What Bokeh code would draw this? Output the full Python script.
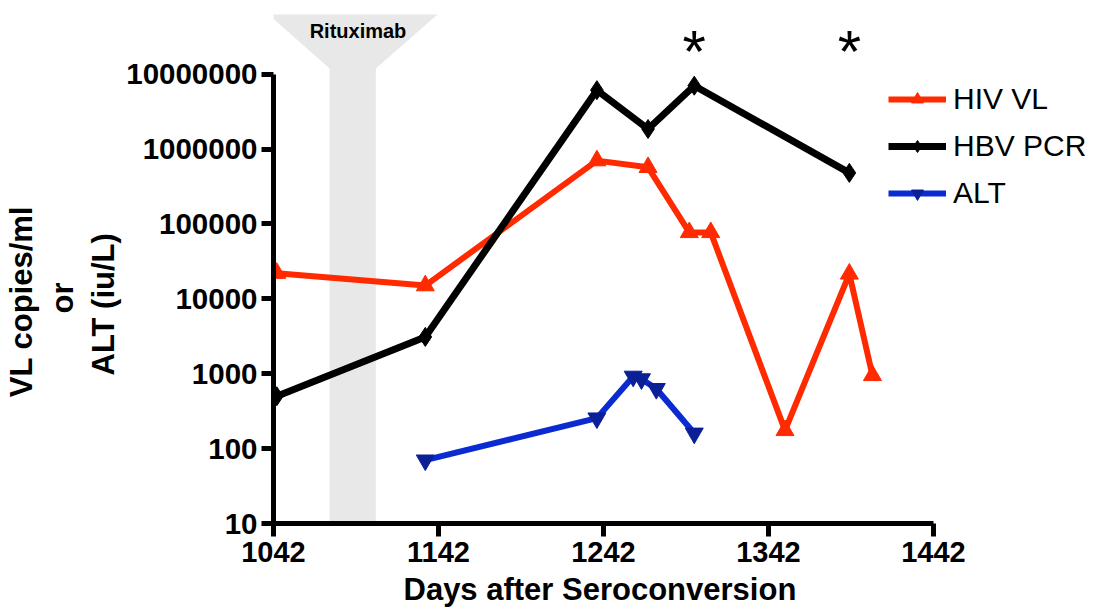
import math
from bokeh.plotting import figure
from bokeh.models import Range1d, FixedTicker, NumeralTickFormatter, Label, Legend, LegendItem, Title
from bokeh.core.properties import value
from bokeh.embed import file_html
from bokeh.resources import INLINE

# ---------------- data ----------------
hiv_days = [1044, 1134, 1238, 1269, 1294, 1307, 1352, 1391, 1405]
hiv_vl = [22000, 15000, 700000, 570000, 77000, 77000, 175, 21500, 950]

hbv_days = [1044, 1134, 1238, 1269, 1297, 1391]
hbv_pcr = [500, 3100, 6100000, 1850000, 7000000, 480000]

alt_days = [1134, 1238, 1260, 1265, 1274, 1297]
alt_vals = [70, 255, 920, 850, 630, 160]

rituximab_start = 1076
rituximab_end = 1104

x_ticks = [1042, 1142, 1242, 1342, 1442]
y_ticks = [10, 100, 1000, 10000, 100000, 1000000, 10000000]

# ---------------- layout helpers ----------------
W, H = 1098, 615
LEFT, BOTTOM = 273, 92
FRAME_W = W - LEFT
FRAME_H = H - BOTTOM
PX_DAY = 1.65
PX_DEC = 74.9
X0 = 1042
PAGE_X0 = LEFT          # page x of day 1042
PAGE_Y10 = FRAME_H      # page y of value 10


def xd(px):
    return X0 + (px - PAGE_X0) / PX_DAY


def yd(py):
    return 10 ** (1 + (PAGE_Y10 - py) / PX_DEC)


FONT = "Liberation Sans"
RED = "#FF2A00"
BLUE_LINE = "#0A2AD2"
BLUE_MARK = "#0B1F96"
GRAY = "#E8E8E8"

p = figure(width=W, height=H, output_backend="svg", toolbar_location=None,
           x_range=Range1d(X0, X0 + FRAME_W / PX_DAY),
           y_range=Range1d(10, 10 ** (1 + FRAME_H / PX_DEC)),
           y_axis_type="log",
           min_border_left=LEFT, min_border_right=0, min_border_top=0,
           min_border_bottom=BOTTOM)
p.outline_line_color = None
p.grid.visible = False
p.background_fill_color = "white"
p.border_fill_color = "white"

# Rituximab funnel + band
p.patch(x=[xd(268), xd(437), rituximab_end, rituximab_end, rituximab_start, rituximab_start],
        y=[yd(14), yd(14), yd(68), 10, 10, yd(68)],
        fill_color=GRAY, line_color=None)
p.add_layout(Label(x=xd(357.5), y=yd(30), text="Rituximab", text_align="center",
                   text_baseline="alphabetic", text_font=FONT, text_font_size="20px",
                   text_font_style="bold", text_color="black"))

# series
r_hiv_l = p.line(hiv_days, hiv_vl, line_color=RED, line_width=6)
r_hiv_m = p.scatter(hiv_days, hiv_vl, marker="triangle", size=18, fill_color=RED, line_color=RED)
r_hbv_l = p.line(hbv_days, hbv_pcr, line_color="black", line_width=7)
r_hbv_m = p.scatter(hbv_days, hbv_pcr, marker="diamond", size=19, fill_color="black", line_color="black")
r_alt_l = p.line(alt_days, alt_vals, line_color=BLUE_LINE, line_width=6)
r_alt_m = p.scatter(alt_days, alt_vals, marker="inverted_triangle", size=18,
                    fill_color=BLUE_MARK, line_color=BLUE_MARK)

# asterisks over selected HBV points
p.text(x=[hbv_days[4], hbv_days[5]], y=[yd(51), yd(51)], text=["*", "*"],
       text_align="center", text_baseline="alphabetic", text_font=value(FONT),
       text_font_size="60px", text_color="black")

# axes
xa = p.xaxis[0]
xa.ticker = FixedTicker(ticks=x_ticks)
xa.bounds = (x_ticks[0], x_ticks[-1])
ya = p.yaxis[0]
ya.ticker = FixedTicker(ticks=y_ticks)
ya.formatter = NumeralTickFormatter(format="0")
ya.bounds = (y_ticks[0], y_ticks[-1])
for ax in (xa, ya):
    ax.axis_line_width = 5
    ax.axis_line_color = "black"
    ax.major_tick_line_width = 5
    ax.major_tick_line_color = "black"
    ax.major_tick_in = 0
    ax.major_tick_out = 12
    ax.minor_tick_line_color = None
    ax.major_label_text_font = FONT
    ax.major_label_text_font_style = "bold"
    ax.major_label_text_color = "black"
xa.major_label_text_font_size = "29px"
ya.major_label_text_font_size = "29.5px"
xa.major_tick_out = 13
xa.major_label_standoff = 5
ya.major_label_standoff = 4

# axis titles
def title(text, **kw):
    return Title(text=text, text_font=FONT, text_font_size="31px", text_font_style="bold",
                 text_color="black", **kw)

p.add_layout(title("Days after Seroconversion", align="left", offset=130, standoff=12,
                   vertical_align="middle"), "below")
p.add_layout(title("ALT (iu/L)", align="left", offset=148, standoff=4,
                   vertical_align="middle"), "left")
p.add_layout(title("or", align="left", offset=210, standoff=4,
                   vertical_align="middle"), "left")
p.add_layout(title("VL copies/ml", align="left", offset=126.3, standoff=4,
                   vertical_align="middle"), "left")

legend = Legend(items=[
    LegendItem(label="HIV VL", renderers=[r_hiv_l, r_hiv_m]),
    LegendItem(label="HBV PCR", renderers=[r_hbv_l, r_hbv_m]),
    LegendItem(label="ALT", renderers=[r_alt_l, r_alt_m]),
], location=(615, 313))
legend.label_text_font = FONT
legend.label_text_font_size = "30px"
legend.label_text_color = "black"
legend.glyph_width = 58
legend.glyph_height = 30
legend.label_standoff = 7
legend.spacing = 13
legend.padding = 0
legend.margin = 0
legend.border_line_color = None
legend.background_fill_alpha = 0
p.add_layout(legend)

open("out.html", "w").write(file_html(p, INLINE))
